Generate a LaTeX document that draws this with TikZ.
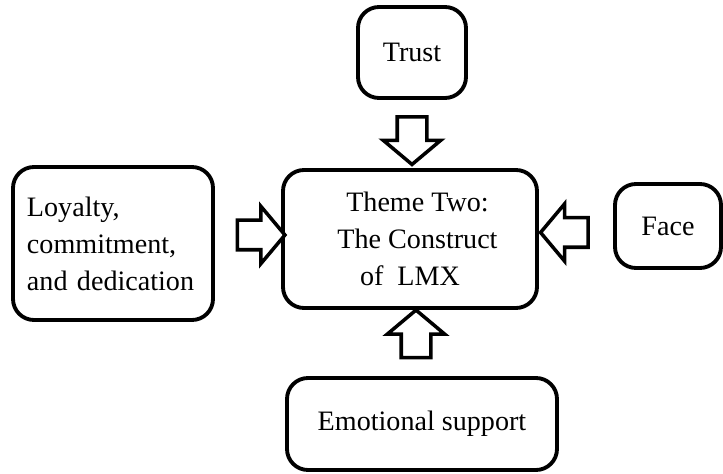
\documentclass[tikz,border=0pt]{standalone}
\usepackage{fontspec}
\setmainfont{Liberation Serif}
\usetikzlibrary{shapes.arrows}

\begin{document}
\begin{tikzpicture}[
  theme/.style={draw,line width=2.2pt,rounded corners=0.42cm,align=center,inner sep=0pt,font=\fontsize{16}{21}\selectfont},
  push/.style={draw,line width=2pt,fill=white,single arrow,single arrow head extend=0.28cm,single arrow tip angle=100,inner xsep=0pt,inner ysep=0.26cm,minimum height=0.95cm,minimum width=1.1cm}
]
\useasboundingbox (0,0) rectangle (14.46,-9.48);
\node[theme,minimum width=2.16cm,minimum height=1.82cm] (trust) at (8.24,-1.05) {Trust};
\node[theme,minimum width=5.08cm,minimum height=2.76cm] (lmx) at (8.2,-4.78) {\hspace*{0.3cm}Theme Two:\\\hspace*{0.3cm}The Construct\\of\ \ LMX};
\node[theme,minimum width=4.0cm,minimum height=3.06cm,text width=3.44cm,align=left] (loyalty) at (2.26,-4.87) {Loyalty,\\commitment,\\and dedication};
\node[theme,minimum width=2.12cm,minimum height=1.68cm] (face) at (13.36,-4.52) {Face};
\node[theme,minimum width=5.4cm,minimum height=1.84cm] (support) at (8.44,-8.48) {Emotional support};
\node[push,rotate=-90] (trust-push) at (8.24,-2.69) {};
\node[push] (loyalty-push) at (5.1,-4.7) {};
\node[push,rotate=180] (face-push) at (11.41,-4.65) {};
\node[push,rotate=90] (support-push) at (8.32,-6.8) {};
\end{tikzpicture}
\end{document}
